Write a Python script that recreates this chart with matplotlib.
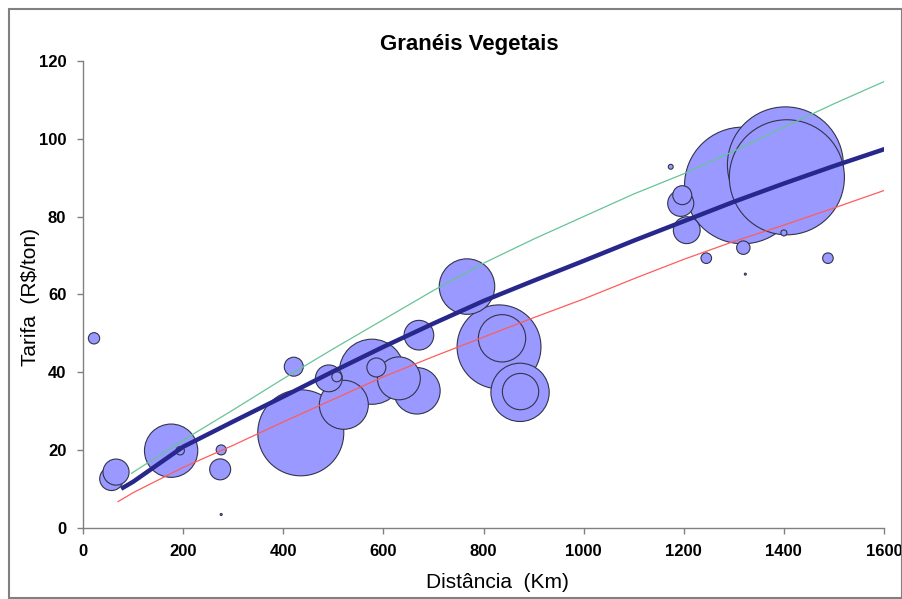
import matplotlib
matplotlib.use("Agg")
import matplotlib.pyplot as plt
from matplotlib.patches import Rectangle
import numpy as np

# bubbles: distance (km), tariff (R$/ton), volume (bubble area), big ones first
distancia = [1318, 1403, 1406, 435, 831, 577, 873, 767, 521, 176, 667, 837, 631,
             874, 671, 1206, 1194, 491, 57, 66, 274, 586, 1197, 421, 1319, 22, 1245,
             1488, 276, 507, 194, 1400, 1174, 276, 1323]
tarifa = [88.0, 93.3, 90.1, 24.4, 46.5, 40.1, 34.8, 62.0, 31.6, 19.8, 35.2, 48.7, 38.4,
          35.0, 49.5, 76.5, 83.4, 38.4, 12.6, 14.3, 15.0, 41.2, 85.5, 41.4, 72.0, 48.7, 69.3,
          69.3, 20.0, 38.8, 19.8, 75.8, 92.8, 3.4, 65.2]
volume = [340, 336, 331, 185, 176, 106, 85, 77, 60, 71, 54, 56, 46,
          33, 22, 18, 17, 18, 14, 17, 11, 9, 9, 9, 4.5, 3.2, 2.8,
          2.8, 2.5, 2.5, 1.8, 0.9, 0.6, 0.1, 0.1]

# fitted curve and its band
curva_km = [80, 100, 200, 300, 400, 500, 600, 700, 800, 900, 1000, 1100, 1200, 1300, 1400, 1500, 1600]
curva_media = [10.3, 11.8, 20.8, 27.3, 33.7, 40.2, 46.5, 52.5, 58.3, 63.5, 68.6, 73.8, 78.8, 83.8, 88.5, 93.0, 97.3]
sup_km = [97, 200, 300, 400, 500, 600, 700, 800, 900, 1000, 1100, 1200, 1300, 1400, 1500, 1600]
curva_sup = [14.0, 22.5, 30.3, 38.3, 46.0, 53.5, 61.0, 68.0, 74.2, 80.0, 85.8, 91.0, 96.8, 103.0, 109.0, 114.7]
inf_km = [70, 100, 200, 300, 400, 500, 600, 700, 800, 900, 1000, 1100, 1200, 1300, 1400, 1500, 1600]
curva_inf = [6.7, 9.0, 15.5, 21.2, 27.2, 33.0, 38.8, 44.0, 49.0, 54.0, 58.8, 64.0, 69.0, 73.6, 77.8, 82.2, 86.7]

plt.rcParams['font.family'] = ['Liberation Sans', 'DejaVu Sans']

fig = plt.figure(figsize=(9.03, 5.99), dpi=100)
ax = fig.add_axes([83 / 903, 1 - 527.7 / 599, 801 / 903, 466.7 / 599])

sizes = np.array(volume) * 20.74
ax.scatter(distancia, tarifa, s=sizes, facecolor='#9999ff', edgecolor='#33334a',
           linewidth=0.8, zorder=2)

ax.plot(sup_km, curva_sup, color='#66c497', lw=0.9, zorder=3)
ax.plot(inf_km, curva_inf, color='#ff5c5c', lw=0.9, zorder=3)
ax.plot(curva_km, curva_media, color='#28288c', lw=3.2, zorder=4)

ax.set_xlim(0, 1600)
ax.set_ylim(0, 120)
ax.set_xticks(range(0, 1601, 200))
ax.set_yticks(range(0, 121, 20))
for side in ['top', 'right']:
    ax.spines[side].set_visible(False)
for side in ['left', 'bottom']:
    ax.spines[side].set_color('#808080')
    ax.spines[side].set_linewidth(1.0)
ax.tick_params(colors='#808080', length=4, width=1.0, pad=8, labelcolor='black')
for lab in ax.get_xticklabels() + ax.get_yticklabels():
    lab.set_fontsize(12)
    lab.set_fontweight('bold')

fig.text(469 / 903, 1 - 50 / 599, 'Granéis Vegetais', ha='center', va='baseline',
         fontsize=16, fontweight='bold')
fig.text(497 / 903, 1 - 588 / 599, 'Distância  (Km)', ha='center', va='baseline', fontsize=15)
fig.text(36 / 903, 1 - 297 / 599, 'Tarifa  (R$/ton)', rotation=90, rotation_mode='anchor',
         ha='center', va='baseline', fontsize=15)

fig.patches.append(Rectangle((9 / 903, 1.5 / 599), 893 / 903, 588.5 / 599,
                             transform=fig.transFigure, fill=False,
                             edgecolor='#808080', linewidth=1.5))

fig.savefig('out.png', dpi=100)
